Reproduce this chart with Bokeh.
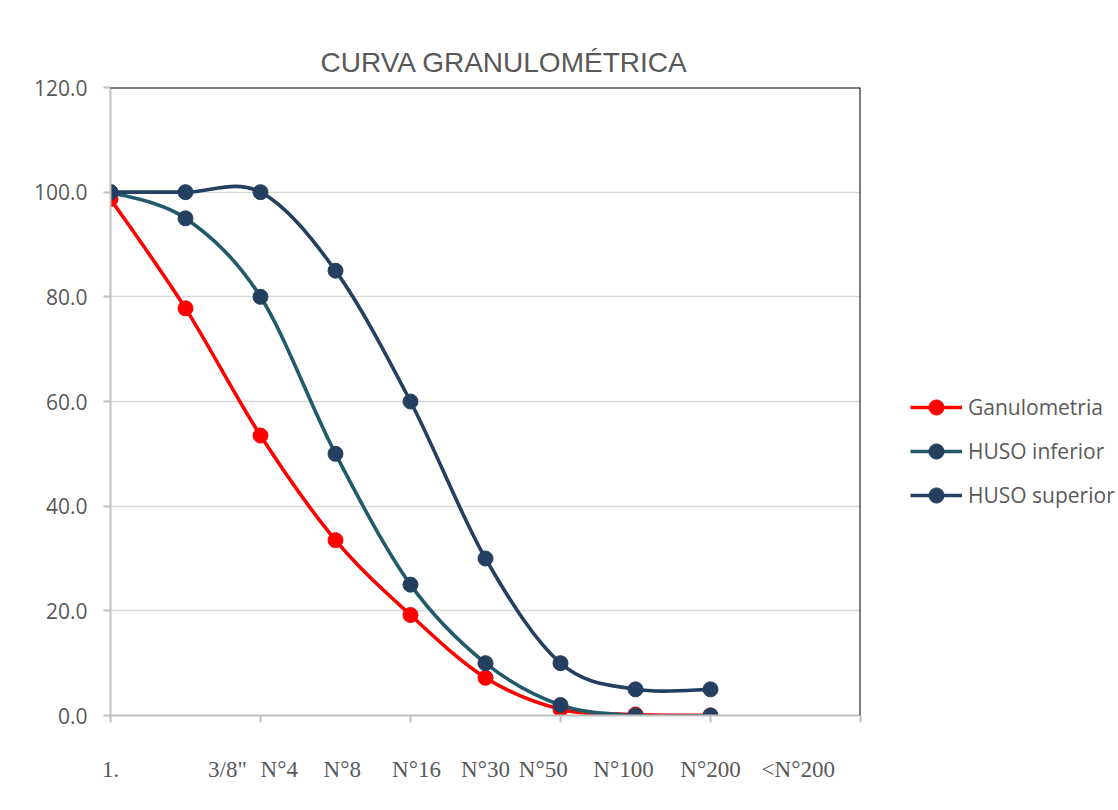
from bokeh.plotting import figure
from bokeh.models import (FixedTicker, Range1d, Legend, LegendItem, ColumnDataSource,
                          NumeralTickFormatter, Span, LinearAxis)
from bokeh.embed import file_html
from bokeh.resources import INLINE

# ---------------- data ----------------
sieve_labels = ["1.", "3/8\"", "N°4", "N°8", "N°16", "N°30", "N°50", "N°100", "N°200", "<N°200"]
ganulometria = [98.7, 77.8, 53.5, 33.5, 19.2, 7.2, 1.2, 0.2, 0.0]
huso_inferior = [100, 95, 80, 50, 25, 10, 2, 0, 0]
huso_superior = [100, 100, 100, 85, 60, 30, 10, 5, 5]
y_ticks = [0, 20, 40, 60, 80, 100, 120]

# ---------------- layout constants ----------------
N_SLOTS = 10
label_slot_pos = [0, 1.56, 2.25, 3.09, 4.08, 5, 5.77, 6.84, 8, 9.17]
GREY_TXT = "#595959"


def smooth_segments(ys):
    """Catmull-Rom style bezier segments (like Excel smoothed lines)."""
    xs = list(range(len(ys)))
    n = len(xs)
    out = dict(x0=[], y0=[], x1=[], y1=[], cx0=[], cy0=[], cx1=[], cy1=[])
    for i in range(n - 1):
        i0 = max(i - 1, 0)
        i3 = min(i + 2, n - 1)
        out["x0"].append(xs[i]); out["y0"].append(ys[i])
        out["x1"].append(xs[i + 1]); out["y1"].append(ys[i + 1])
        out["cx0"].append(xs[i] + (xs[i + 1] - xs[i0]) / 6)
        out["cy0"].append(ys[i] + (ys[i + 1] - ys[i0]) / 6)
        out["cx1"].append(xs[i + 1] - (xs[i3] - xs[i]) / 6)
        out["cy1"].append(ys[i + 1] - (ys[i3] - ys[i]) / 6)
    return ColumnDataSource(out)


p = figure(frame_width=750, frame_height=628, output_backend="svg", toolbar_location=None,
           x_range=Range1d(0, N_SLOTS), y_range=Range1d(0, 120),
           min_border_left=110, min_border_right=10, min_border_top=87, min_border_bottom=20)
p.outline_line_color = None
p.background_fill_color = "white"
p.border_fill_color = "white"

p.title.text = "CURVA GRANULOMÉTRICA"
p.title.text_font = "Liberation Sans"
p.title.text_font_size = "28px"
p.title.text_font_style = "normal"
p.title.text_color = GREY_TXT
p.title.align = "left"
p.title.offset = 210
p.title.standoff = 20

# axes
p.xaxis.ticker = FixedTicker(ticks=list(range(0, N_SLOTS + 1, 2)))
p.xaxis.major_label_text_font_size = "0px"
p.xaxis.major_label_text_color = None
p.xaxis.major_label_standoff = 0
p.xaxis.major_tick_out = 7
p.xaxis.major_tick_in = 0
p.xaxis.minor_tick_line_color = None
p.xaxis.axis_line_color = "#BFBFBF"
p.xaxis.axis_line_width = 2
p.xaxis.major_tick_line_color = "#BFBFBF"
p.xaxis.major_tick_line_width = 2

p.yaxis.ticker = FixedTicker(ticks=y_ticks)
p.yaxis.formatter = NumeralTickFormatter(format="0.0")
p.yaxis.major_label_text_font = "Open Sans"
p.yaxis.major_label_text_font_size = "21px"
p.yaxis.major_label_text_color = GREY_TXT
p.yaxis.major_label_standoff = 16
p.yaxis.major_tick_out = 7
p.yaxis.major_tick_in = 0
p.yaxis.minor_tick_line_color = None
p.yaxis.axis_line_color = "#BFBFBF"
p.yaxis.axis_line_width = 2
p.yaxis.major_tick_line_color = "#BFBFBF"
p.yaxis.major_tick_line_width = 2

p.xgrid.grid_line_color = None
p.ygrid.grid_line_color = "#D9D9D9"
p.ygrid.grid_line_width = 1.5

# category label axis (labels only)
lab_axis = LinearAxis(ticker=FixedTicker(ticks=label_slot_pos),
                      major_label_overrides={k: t for k, t in zip(label_slot_pos, sieve_labels)},
                      axis_line_color=None, major_tick_line_color=None, minor_tick_line_color=None,
                      major_label_text_font="Liberation Serif", major_label_text_font_size="23px",
                      major_label_text_color=GREY_TXT, major_label_standoff=28)
p.add_layout(lab_axis, "below")

# black top/right frame lines
p.add_layout(Span(location=120, dimension="width", line_color="black", line_width=2))
p.add_layout(Span(location=N_SLOTS, dimension="height", line_color="black", line_width=2))

series = [
    ("Ganulometria", ganulometria, "#FF0000", "#FF0000"),
    ("HUSO inferior", huso_inferior, "#215B6A", "#243F60"),
    ("HUSO superior", huso_superior, "#243F60", "#243F60"),
]

beziers, scatters, items = [], [], []
for name, ys, lc, mc in series:
    src = smooth_segments(ys)
    br = p.bezier(x0="x0", y0="y0", x1="x1", y1="y1", cx0="cx0", cy0="cy0",
                  cx1="cx1", cy1="cy1", source=src, line_color=lc, line_width=3.6)
    sr = p.scatter(x=list(range(len(ys))), y=ys, size=15, fill_color=mc, line_color=mc)
    beziers.append(br); scatters.append(sr)
    items.append(LegendItem(label=name, renderers=[br, sr]))

p.renderers = beziers + scatters

legend = Legend(items=items, location=(50, 201), orientation="vertical",
                glyph_width=52, glyph_height=38, label_height=38, spacing=6,
                label_standoff=6, padding=0, margin=0,
                label_text_font="Open Sans", label_text_font_size="21px",
                label_text_color=GREY_TXT, border_line_color=None,
                background_fill_color="white")
p.add_layout(legend, "right")

open("out.html", "w").write(file_html(p, INLINE))
